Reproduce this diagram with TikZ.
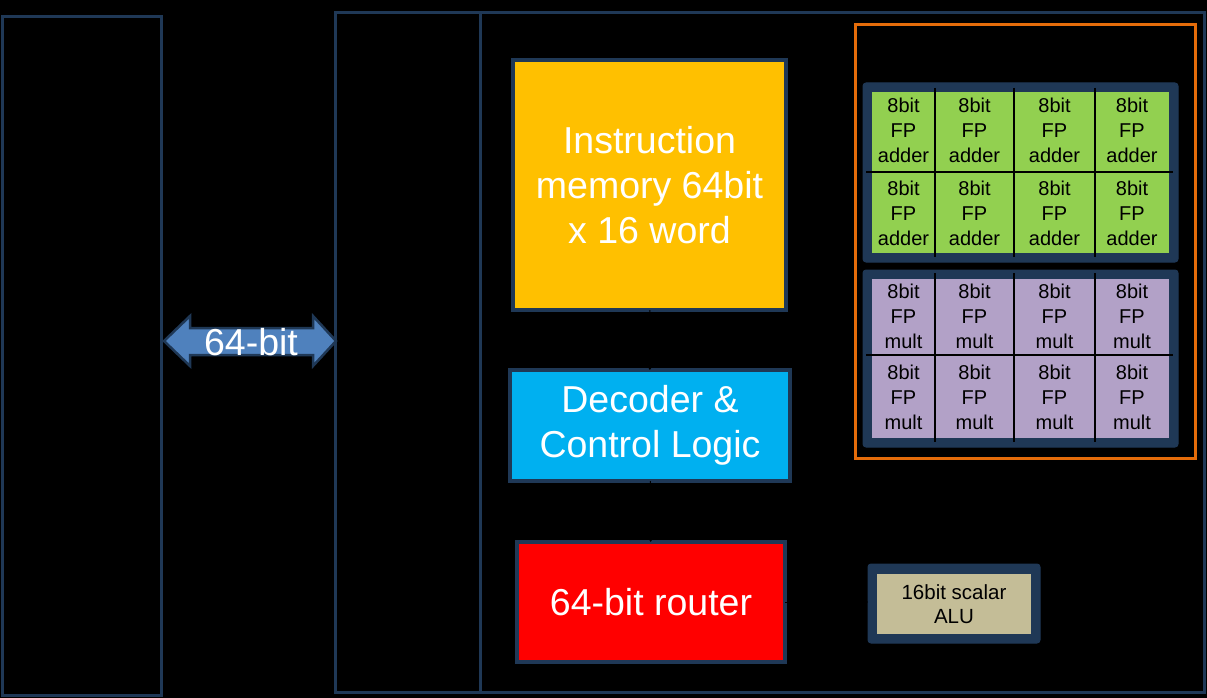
\documentclass[tikz,border=0pt]{standalone}
\usepackage{fontspec}
\setmainfont{Liberation Sans}
\usetikzlibrary{arrows.meta,positioning}
\definecolor{navy}{RGB}{31,56,86}
\definecolor{memyellow}{RGB}{255,192,0}
\definecolor{decblue}{RGB}{0,176,240}
\definecolor{simdorange}{RGB}{228,108,10}
\definecolor{addgreen}{RGB}{146,208,80}
\definecolor{mulpurple}{RGB}{178,161,199}
\definecolor{alutan}{RGB}{196,189,151}
\definecolor{busblue}{RGB}{79,129,189}
\begin{document}
\begin{tikzpicture}[x=1pt,y=-1pt,
		outline/.style={draw=navy,line width=3pt,inner sep=0pt,outer sep=0pt},
		block/.style={outline,line width=3.5pt,text=white,align=center,font=\fontsize{37.5}{45}\selectfont},
		pebox/.style={fill=navy,draw=navy,line width=1pt,rounded corners=3pt,inner sep=0pt,outer sep=0pt},
		pearray/.style={minimum width=297pt,inner sep=0pt,outer sep=0pt},
		cell/.style={align=center,inner sep=0pt,font=\fontsize{20}{25}\selectfont},
		gridline/.style={black,line width=2pt},
		wire/.style={black,line width=1pt,-{Triangle[length=7pt,width=9pt]}}]
		\useasboundingbox (0,0) rectangle (1207,698);
		\fill[black] (0,0) rectangle (1207,698);
		\node[outline,minimum width=159pt,minimum height=678pt] (host) at (81.5,356) {};
		\node[outline,minimum width=145pt,minimum height=679pt] (iface) at (407.5,352.5) {};
		\node[outline,minimum width=724pt,minimum height=679pt] (core) at (842,352.5) {};
		\node[draw=simdorange,line width=3pt,inner sep=0pt,minimum width=340pt,minimum height=433pt] (simd) at (1025,241.5) {};
		\node[block,fill=memyellow,minimum width=273pt,minimum height=250pt] (imem) at (649.5,185) {Instruction\\memory 64bit\\x 16 word};
		\node[block,fill=decblue,minimum width=280pt,minimum height=111pt] (dec) at (650,425.5) {Decoder \&\\Control Logic};
		\node[block,fill=red,minimum width=268pt,minimum height=120pt] (router) at (651,602) {64-bit router};
		\node[pebox,minimum width=172pt,minimum height=79pt] (alubox) at (954,603.5) {};
		\node[fill=alutan,minimum width=154pt,minimum height=60pt,inner sep=0pt,align=center,font=\fontsize{20.5}{24}\selectfont] (alu) at (954,604) {16bit scalar\\ALU};
		\node[pebox,minimum width=315pt,minimum height=179pt] (addbox) at (1020.5,172.5) {};
		\node[pearray,fill=addgreen,minimum height=161pt] (addarr) at (1020.5,172.5) {};
		\node[pebox,minimum width=315pt,minimum height=177pt] (mulbox) at (1020.5,358.5) {};
		\node[pearray,fill=mulpurple,minimum height=159pt] (mularr) at (1020.5,358.5) {};
		\draw[gridline] (866,172) -- (1173,172);
		\draw[gridline] (866,355) -- (1173,355);
		\foreach \x in {935,1014,1095} {
			\draw[gridline] (\x,88) -- (\x,257);
			\draw[gridline] (\x,273) -- (\x,442);
		}
		\foreach \x [count=\i] in {903.5,974.5,1054.5,1132} {
			\node[cell] (add1\i) at (\x,130) {8bit\\FP\\adder};
			\node[cell] (add2\i) at (\x,213) {8bit\\FP\\adder};
			\node[cell] (mul1\i) at (\x,316) {8bit\\FP\\mult};
			\node[cell] (mul2\i) at (\x,397) {8bit\\FP\\mult};
		}
		\draw[fill=busblue,draw=navy,line width=2.5pt,line join=miter] (164,341) -- (190,316) -- (190,328) -- (313,328) -- (313,316) -- (336,341) -- (313,366) -- (313,355) -- (190,355) -- (190,366) -- cycle;
		\node[text=white,inner sep=0pt,font=\fontsize{37.5}{40}\selectfont] (bus) at (251,342) {64-bit};
		\draw[wire] (imem) -- (dec);
		\draw[wire] (dec) -- (router);
		\draw[wire] (router.east) -- (router.east -| alubox.west);
	\end{tikzpicture}
\end{document}
